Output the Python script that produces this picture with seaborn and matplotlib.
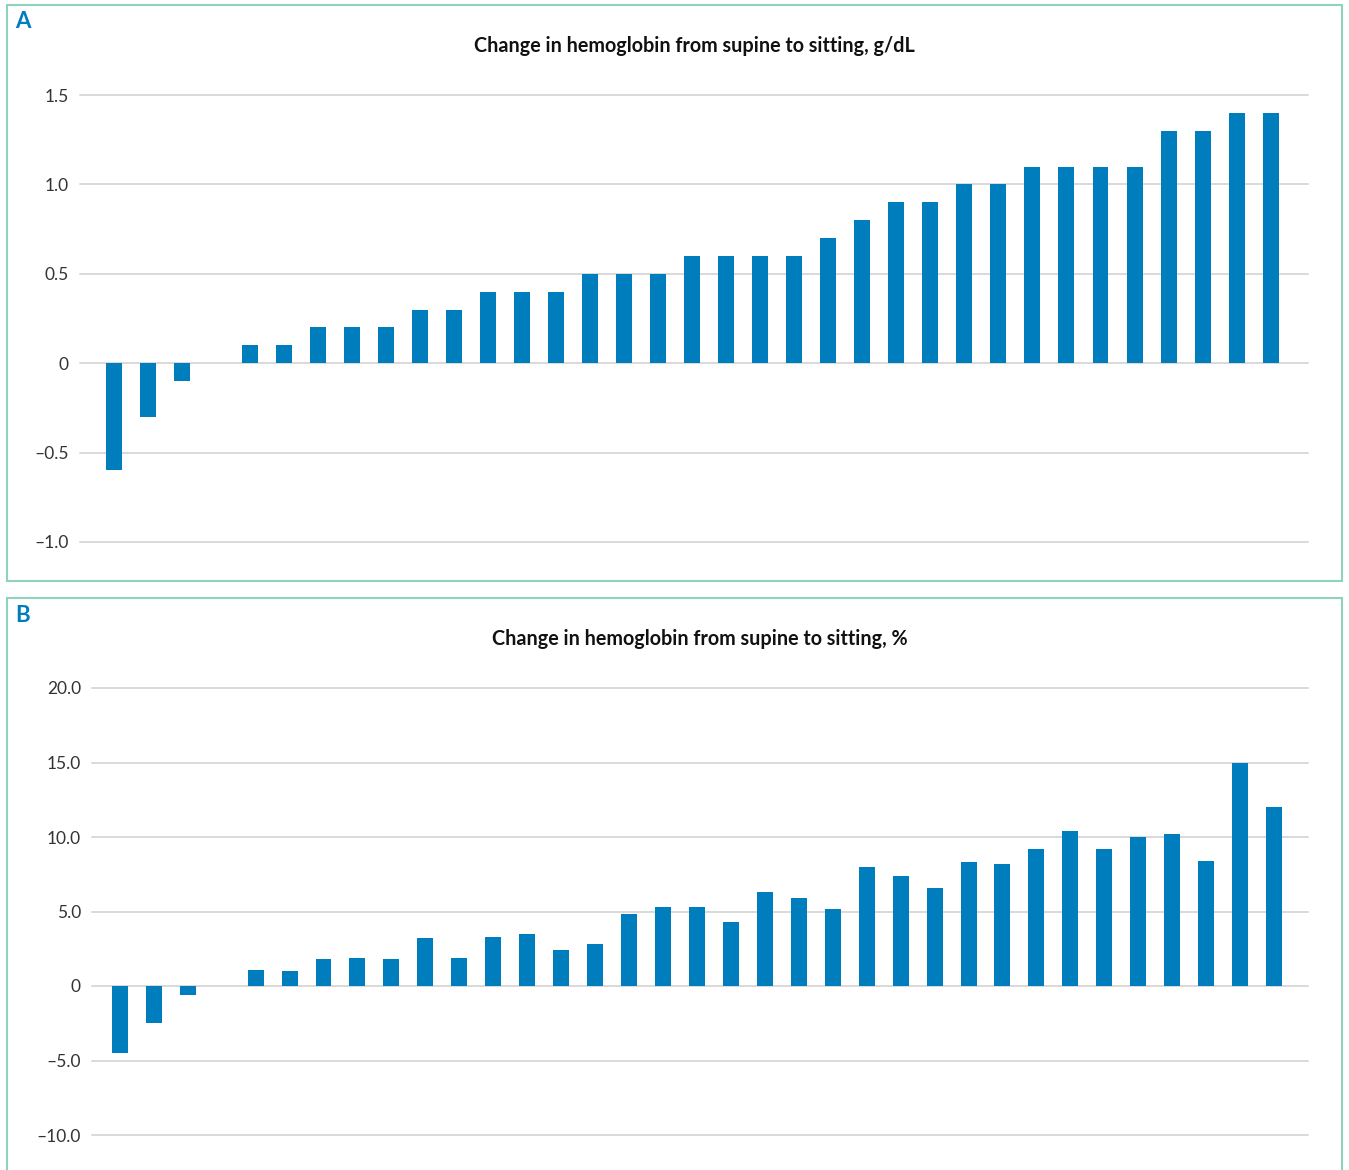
import matplotlib
matplotlib.use("Agg")
import matplotlib.pyplot as plt
import seaborn as sns
import pandas as pd
from matplotlib.patches import Rectangle
from matplotlib.ticker import FixedLocator, FixedFormatter

# data, one bar per participant (sorted)
hb_change_gdl = [-0.6, -0.3, -0.1, 0.0, 0.1, 0.1, 0.2, 0.2, 0.2, 0.3, 0.3, 0.4,
                 0.4, 0.4, 0.5, 0.5, 0.5, 0.6, 0.6, 0.6, 0.6, 0.7, 0.8, 0.9,
                 0.9, 1.0, 1.0, 1.1, 1.1, 1.1, 1.1, 1.3, 1.3, 1.4, 1.4]
hb_change_pct = [-4.5, -2.5, -0.6, 0.0, 1.1, 1.0, 1.8, 1.9, 1.8, 3.2, 1.9, 3.3,
                 3.5, 2.4, 2.8, 4.8, 5.3, 5.3, 4.3, 6.3, 5.9, 5.2, 8.0, 7.4,
                 6.6, 8.3, 8.2, 9.2, 10.4, 9.2, 10.0, 10.2, 8.4, 15.0, 12.0]
ticks_a = [-1.0, -0.5, 0.0, 0.5, 1.0, 1.5]
labels_a = ["\u20131.0", "\u20130.5", "0", "0.5", "1.0", "1.5"]
ticks_b = [-10, -5, 0, 5, 10, 15, 20]
labels_b = ["\u201310.0", "\u20135.0", "0", "5.0", "10.0", "15.0", "20.0"]
title_a = "Change in hemoglobin from supine to sitting, g/dL"
title_b = "Change in hemoglobin from supine to sitting, %"

BLUE = "#007dbc"
BORDER = "#8ed3bf"
GRID = "#d9d9d9"

sns.set_theme(style="white")
plt.rcParams["font.family"] = ["Lato", "DejaVu Sans"]

W, H = 1349, 1170
fig = plt.figure(figsize=(W / 100, H / 100), dpi=100)


def px_axes(left, top, right, bottom):
    return fig.add_axes([left / W, 1 - bottom / H, (right - left) / W, (bottom - top) / H])


def draw_panel(ax, values, ticks, labels, ylim, xlim, title):
    df = pd.DataFrame({"idx": range(len(values)), "val": values})
    sns.barplot(data=df, x="idx", y="val", color=BLUE, width=0.47,
                saturation=1, linewidth=0, ax=ax, zorder=3)
    ax.set_xlim(*xlim)
    ax.set_ylim(*ylim)
    ax.yaxis.set_major_locator(FixedLocator(ticks))
    ax.yaxis.set_major_formatter(FixedFormatter(labels))
    ax.set_xticks([])
    ax.set_xlabel("")
    ax.set_ylabel("")
    for s in ax.spines.values():
        s.set_visible(False)
    ax.tick_params(axis="y", length=0, pad=8, labelsize=12.5, labelcolor="#333333")
    for t in ticks:
        ax.axhline(t, color=GRID, lw=1.4, zorder=1, clip_on=False)
    ax.set_title(title, fontsize=14.2, fontweight="bold", color="#111111",
                 pad=0, y=1 + 43 / 447)


ax_a = px_axes(80, 95, 1308, 542)
draw_panel(ax_a, hb_change_gdl, ticks_a, labels_a, (-1.0, 1.5), (-1.0, 35.1), title_a)

ax_b = px_axes(92, 688, 1308, 1135)
draw_panel(ax_b, hb_change_pct, ticks_b, labels_b, (-10, 20), (-0.82, 35.0), title_b)

# panel borders
fig.patches.append(Rectangle((7 / W, 1 - 581 / H), 1335 / W, 576 / H, fill=False,
                             edgecolor=BORDER, lw=1.5, transform=fig.transFigure))
fig.patches.append(Rectangle((7 / W, 1 - 1180 / H), 1335 / W, 582 / H, fill=False,
                             edgecolor=BORDER, lw=1.5, transform=fig.transFigure))

fig.text(15 / W, 1 - 22 / H, "A", color=BLUE, fontsize=16, fontweight="bold", va="center")
fig.text(15 / W, 1 - 616 / H, "B", color=BLUE, fontsize=16, fontweight="bold", va="center")

fig.savefig("out.png", dpi=100)
